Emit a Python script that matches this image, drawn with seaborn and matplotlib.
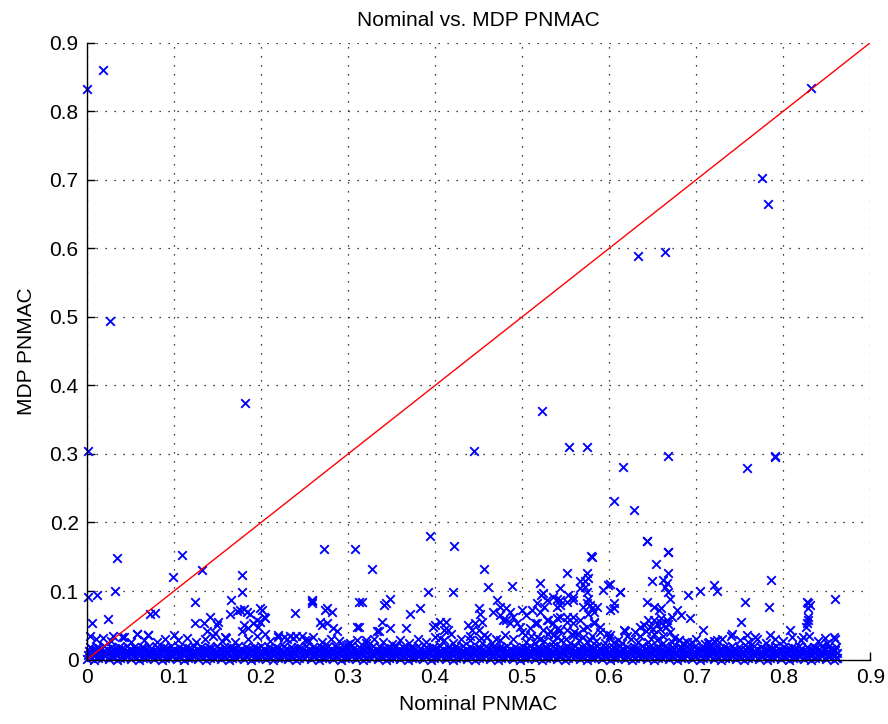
import matplotlib
matplotlib.use("Agg")
import matplotlib.pyplot as plt
import seaborn as sns
import pandas as pd

# Tick positions / labels (both axes share them)
tick_vals = [0.0, 0.1, 0.2, 0.3, 0.4, 0.5, 0.6, 0.7, 0.8, 0.9]
tick_text = ["0", "0.1", "0.2", "0.3", "0.4", "0.5", "0.6", "0.7", "0.8", "0.9"]

# Reference line y = x
diag_x = [0.0, 0.9]
diag_y = [0.0, 0.9]

# Cases with MDP PNMAC essentially zero (dense band along the x axis)
band_pts = [
    (0.000,0.001),(0.008,0.000),(0.017,0.002),(0.025,0.001),(0.034,0.000),(0.043,0.003),(0.051,0.001),(0.060,0.000),(0.068,0.002),(0.077,0.001),
    (0.086,0.000),(0.094,0.002),(0.103,0.001),(0.111,0.000),(0.120,0.003),(0.128,0.001),(0.137,0.000),(0.146,0.002),(0.154,0.001),(0.163,0.000),
    (0.171,0.002),(0.180,0.001),(0.189,0.000),(0.197,0.003),(0.206,0.001),(0.214,0.000),(0.223,0.002),(0.231,0.001),(0.240,0.000),(0.249,0.002),
    (0.257,0.001),(0.266,0.000),(0.274,0.003),(0.283,0.001),(0.292,0.000),(0.300,0.002),(0.309,0.001),(0.317,0.000),(0.326,0.002),(0.334,0.001),
    (0.343,0.000),(0.352,0.003),(0.360,0.001),(0.369,0.000),(0.377,0.002),(0.386,0.001),(0.395,0.000),(0.403,0.002),(0.412,0.001),(0.420,0.000),
    (0.429,0.003),(0.437,0.001),(0.446,0.000),(0.455,0.002),(0.463,0.001),(0.472,0.000),(0.480,0.002),(0.489,0.001),(0.498,0.000),(0.506,0.003),
    (0.515,0.001),(0.523,0.000),(0.532,0.002),(0.540,0.001),(0.549,0.000),(0.558,0.002),(0.566,0.001),(0.575,0.000),(0.583,0.003),(0.592,0.001),
    (0.601,0.000),(0.609,0.002),(0.618,0.001),(0.626,0.000),(0.635,0.002),(0.643,0.001),(0.652,0.000),(0.661,0.003),(0.669,0.001),(0.678,0.000),
    (0.686,0.002),(0.695,0.001),(0.704,0.000),(0.712,0.002),(0.721,0.001),(0.729,0.000),(0.738,0.003),(0.746,0.001),(0.755,0.000),(0.764,0.002),
    (0.772,0.001),(0.781,0.000),(0.789,0.002),(0.798,0.001),(0.807,0.000),(0.815,0.003),(0.824,0.001),(0.832,0.000),(0.841,0.002),(0.849,0.001),
    (0.858,0.000),(0.862,0.002),
    (0.002,0.013),(0.010,0.014),(0.019,0.012),(0.027,0.013),(0.036,0.014),(0.045,0.012),(0.053,0.013),(0.062,0.014),(0.070,0.012),(0.079,0.013),
    (0.088,0.014),(0.096,0.012),(0.105,0.013),(0.113,0.014),(0.122,0.012),(0.130,0.013),(0.139,0.014),(0.148,0.012),(0.156,0.013),(0.165,0.014),
    (0.173,0.012),(0.182,0.013),(0.191,0.014),(0.199,0.012),(0.208,0.013),(0.216,0.014),(0.225,0.012),(0.233,0.013),(0.242,0.014),(0.251,0.012),
    (0.259,0.013),(0.268,0.014),(0.276,0.012),(0.285,0.013),(0.294,0.014),(0.302,0.012),(0.311,0.013),(0.319,0.014),(0.328,0.012),(0.336,0.013),
    (0.345,0.014),(0.354,0.012),(0.362,0.013),(0.371,0.014),(0.379,0.012),(0.388,0.013),(0.397,0.014),(0.405,0.012),(0.414,0.013),(0.422,0.014),
    (0.431,0.012),(0.439,0.013),(0.448,0.014),(0.457,0.012),(0.465,0.013),(0.474,0.014),(0.482,0.012),(0.491,0.013),(0.500,0.014),(0.508,0.012),
    (0.517,0.013),(0.525,0.014),(0.534,0.012),(0.542,0.013),(0.551,0.014),(0.560,0.012),(0.568,0.013),(0.577,0.014),(0.585,0.012),(0.594,0.013),
    (0.603,0.014),(0.611,0.012),(0.620,0.013),(0.628,0.014),(0.637,0.012),(0.645,0.013),(0.654,0.014),(0.663,0.012),(0.671,0.013),(0.680,0.014),
    (0.688,0.012),(0.697,0.013),(0.706,0.014),(0.714,0.012),(0.723,0.013),(0.731,0.014),(0.740,0.012),(0.748,0.013),(0.757,0.014),(0.766,0.012),
    (0.774,0.013),(0.783,0.014),(0.791,0.012),(0.800,0.013),(0.809,0.014),(0.817,0.012),(0.826,0.013),(0.834,0.014),(0.843,0.012),(0.851,0.013),
    (0.860,0.014),
    (0.004,0.004),(0.013,0.003),(0.021,0.005),(0.030,0.004),(0.038,0.003),(0.047,0.005),(0.056,0.004),(0.064,0.003),(0.073,0.005),(0.081,0.004),
    (0.090,0.003),(0.099,0.005),(0.107,0.004),(0.116,0.003),(0.124,0.005),(0.133,0.004),(0.141,0.003),(0.150,0.005),(0.159,0.004),(0.167,0.003),
    (0.176,0.005),(0.184,0.004),(0.193,0.003),(0.201,0.005),(0.210,0.004),(0.219,0.003),(0.227,0.005),(0.236,0.004),(0.244,0.003),(0.253,0.005),
    (0.261,0.004),(0.270,0.003),(0.279,0.005),(0.287,0.004),(0.296,0.003),(0.304,0.005),(0.313,0.004),(0.321,0.003),(0.330,0.005),(0.339,0.004),
    (0.347,0.003),(0.356,0.005),(0.364,0.004),(0.373,0.003),(0.381,0.005),(0.390,0.004),(0.399,0.003),(0.407,0.005),(0.416,0.004),(0.424,0.003),
    (0.433,0.005),(0.441,0.004),(0.450,0.003),(0.459,0.005),(0.467,0.004),(0.476,0.003),(0.484,0.005),(0.493,0.004),(0.502,0.003),(0.510,0.005),
    (0.519,0.004),(0.527,0.003),(0.536,0.005),(0.544,0.004),(0.553,0.003),(0.562,0.005),(0.570,0.004),(0.579,0.003),(0.587,0.005),(0.596,0.004),
    (0.605,0.003),(0.613,0.005),(0.622,0.004),(0.630,0.003),(0.639,0.005),(0.647,0.004),(0.656,0.003),(0.665,0.005),(0.673,0.004),(0.682,0.003),
    (0.690,0.005),(0.699,0.004),(0.708,0.003),(0.716,0.005),(0.725,0.004),(0.733,0.003),(0.742,0.005),(0.750,0.004),(0.759,0.003),(0.768,0.005),
    (0.776,0.004),(0.785,0.003),(0.793,0.005),(0.802,0.004),(0.811,0.003),(0.819,0.005),(0.828,0.004),(0.836,0.003),(0.845,0.005),(0.853,0.004),
    (0.861,0.003),
    (0.006,0.016),(0.014,0.017),(0.023,0.015),(0.031,0.016),(0.040,0.017),(0.049,0.015),(0.057,0.016),(0.066,0.017),(0.074,0.015),(0.083,0.016),
    (0.092,0.017),(0.100,0.015),(0.109,0.016),(0.117,0.017),(0.126,0.015),(0.134,0.016),(0.143,0.017),(0.152,0.015),(0.160,0.016),(0.169,0.017),
    (0.177,0.015),(0.186,0.016),(0.195,0.017),(0.203,0.015),(0.212,0.016),(0.220,0.017),(0.229,0.015),(0.237,0.016),(0.246,0.017),(0.255,0.015),
    (0.263,0.016),(0.272,0.017),(0.280,0.015),(0.289,0.016),(0.298,0.017),(0.306,0.015),(0.315,0.016),(0.323,0.017),(0.332,0.015),(0.340,0.016),
    (0.349,0.017),(0.358,0.015),(0.366,0.016),(0.375,0.017),(0.383,0.015),(0.392,0.016),(0.401,0.017),(0.409,0.015),(0.418,0.016),(0.426,0.017),
    (0.435,0.015),(0.443,0.016),(0.452,0.017),(0.461,0.015),(0.469,0.016),(0.478,0.017),(0.486,0.015),(0.495,0.016),(0.504,0.017),(0.512,0.015),
    (0.521,0.016),(0.529,0.017),(0.538,0.015),(0.546,0.016),(0.555,0.017),(0.564,0.015),(0.572,0.016),(0.581,0.017),(0.589,0.015),(0.598,0.016),
    (0.607,0.017),(0.615,0.015),(0.624,0.016),(0.632,0.017),(0.641,0.015),(0.649,0.016),(0.658,0.017),(0.667,0.015),(0.675,0.016),(0.684,0.017),
    (0.692,0.015),(0.701,0.016),(0.710,0.017),(0.718,0.015),(0.727,0.016),(0.735,0.017),(0.744,0.015),(0.752,0.016),(0.761,0.017),(0.770,0.015),
    (0.778,0.016),(0.787,0.017),(0.795,0.015),(0.804,0.016),(0.813,0.017),(0.821,0.015),(0.830,0.016),(0.838,0.017),(0.847,0.015),(0.855,0.016),
    (0.001,0.007),(0.009,0.006),(0.018,0.008),(0.026,0.007),(0.035,0.006),(0.044,0.008),(0.052,0.007),(0.061,0.006),(0.069,0.008),(0.078,0.007),
    (0.087,0.006),(0.095,0.008),(0.104,0.007),(0.112,0.006),(0.121,0.008),(0.129,0.007),(0.138,0.006),(0.147,0.008),(0.155,0.007),(0.164,0.006),
    (0.172,0.008),(0.181,0.007),(0.190,0.006),(0.198,0.008),(0.207,0.007),(0.215,0.006),(0.224,0.008),(0.232,0.007),(0.241,0.006),(0.250,0.008),
    (0.258,0.007),(0.267,0.006),(0.275,0.008),(0.284,0.007),(0.293,0.006),(0.301,0.008),(0.310,0.007),(0.318,0.006),(0.327,0.008),(0.335,0.007),
    (0.344,0.006),(0.353,0.008),(0.361,0.007),(0.370,0.006),(0.378,0.008),(0.387,0.007),(0.396,0.006),(0.404,0.008),(0.413,0.007),(0.421,0.006),
    (0.430,0.008),(0.438,0.007),(0.447,0.006),(0.456,0.008),(0.464,0.007),(0.473,0.006),(0.481,0.008),(0.490,0.007),(0.499,0.006),(0.507,0.008),
    (0.516,0.007),(0.524,0.006),(0.533,0.008),(0.541,0.007),(0.550,0.006),(0.559,0.008),(0.567,0.007),(0.576,0.006),(0.584,0.008),(0.593,0.007),
    (0.602,0.006),(0.610,0.008),(0.619,0.007),(0.627,0.006),(0.636,0.008),(0.644,0.007),(0.653,0.006),(0.662,0.008),(0.670,0.007),(0.679,0.006),
    (0.687,0.008),(0.696,0.007),(0.705,0.006),(0.713,0.008),(0.722,0.007),(0.730,0.006),(0.739,0.008),(0.747,0.007),(0.756,0.006),(0.765,0.008),
    (0.773,0.007),(0.782,0.006),(0.790,0.008),(0.799,0.007),(0.808,0.006),(0.816,0.008),(0.825,0.007),(0.833,0.006),(0.842,0.008),(0.850,0.007),
    (0.859,0.006),
    (0.003,0.019),(0.011,0.018),(0.020,0.020),(0.028,0.019),(0.037,0.018),(0.046,0.020),(0.054,0.019),(0.063,0.018),(0.071,0.020),(0.080,0.019),
    (0.089,0.018),(0.097,0.020),(0.106,0.019),(0.114,0.018),(0.123,0.020),(0.131,0.019),(0.140,0.018),(0.149,0.020),(0.157,0.019),(0.166,0.018),
    (0.174,0.020),(0.183,0.019),(0.192,0.018),(0.200,0.020),(0.209,0.019),(0.217,0.018),(0.226,0.020),(0.234,0.019),(0.243,0.018),(0.252,0.020),
    (0.260,0.019),(0.269,0.018),(0.277,0.020),(0.286,0.019),(0.295,0.018),(0.303,0.020),(0.312,0.019),(0.320,0.018),(0.329,0.020),(0.337,0.019),
    (0.346,0.018),(0.355,0.020),(0.363,0.019),(0.372,0.018),(0.380,0.020),(0.389,0.019),(0.398,0.018),(0.406,0.020),(0.415,0.019),(0.423,0.018),
    (0.432,0.020),(0.440,0.019),(0.449,0.018),(0.458,0.020),(0.466,0.019),(0.475,0.018),(0.483,0.020),(0.492,0.019),(0.501,0.018),(0.509,0.020),
    (0.518,0.019),(0.526,0.018),(0.535,0.020),(0.543,0.019),(0.552,0.018),(0.561,0.020),(0.569,0.019),(0.578,0.018),(0.586,0.020),(0.595,0.019),
    (0.604,0.018),(0.612,0.020),(0.621,0.019),(0.629,0.018),(0.638,0.020),(0.646,0.019),(0.655,0.018),(0.664,0.020),(0.672,0.019),(0.681,0.018),
    (0.689,0.020),(0.698,0.019),(0.707,0.018),(0.715,0.020),(0.724,0.019),(0.732,0.018),(0.741,0.020),(0.749,0.019),(0.758,0.018),(0.767,0.020),
    (0.775,0.019),(0.784,0.018),(0.792,0.020),(0.801,0.019),(0.810,0.018),(0.818,0.020),(0.827,0.019),(0.835,0.018),(0.844,0.020),(0.852,0.019),
    (0.861,0.018),
    (0.005,0.010),(0.014,0.009),(0.022,0.011),(0.031,0.010),(0.039,0.009),(0.048,0.011),(0.057,0.010),(0.065,0.009),(0.074,0.011),(0.082,0.010),
    (0.091,0.009),(0.100,0.011),(0.108,0.010),(0.117,0.009),(0.125,0.011),(0.134,0.010),(0.142,0.009),(0.151,0.011),(0.160,0.010),(0.168,0.009),
    (0.177,0.011),(0.185,0.010),(0.194,0.009),(0.202,0.011),(0.211,0.010),(0.220,0.009),(0.228,0.011),(0.237,0.010),(0.245,0.009),(0.254,0.011),
    (0.262,0.010),(0.271,0.009),(0.280,0.011),(0.288,0.010),(0.297,0.009),(0.305,0.011),(0.314,0.010),(0.322,0.009),(0.331,0.011),(0.340,0.010),
    (0.348,0.009),(0.357,0.011),(0.365,0.010),(0.374,0.009),(0.382,0.011),(0.391,0.010),(0.400,0.009),(0.408,0.011),(0.417,0.010),(0.425,0.009),
    (0.434,0.011),(0.442,0.010),(0.451,0.009),(0.460,0.011),(0.468,0.010),(0.477,0.009),(0.485,0.011),(0.494,0.010),(0.503,0.009),(0.511,0.011),
    (0.520,0.010),(0.528,0.009),(0.537,0.011),(0.545,0.010),(0.554,0.009),(0.563,0.011),(0.571,0.010),(0.580,0.009),(0.588,0.011),(0.597,0.010),
    (0.606,0.009),(0.614,0.011),(0.623,0.010),(0.631,0.009),(0.640,0.011),(0.648,0.010),(0.657,0.009),(0.666,0.011),(0.674,0.010),(0.683,0.009),
    (0.691,0.011),(0.700,0.010),(0.709,0.009),(0.717,0.011),(0.726,0.010),(0.734,0.009),(0.743,0.011),(0.751,0.010),(0.760,0.009),(0.769,0.011),
    (0.777,0.010),(0.786,0.009),(0.794,0.011),(0.803,0.010),(0.812,0.009),(0.820,0.011),(0.829,0.010),(0.837,0.009),(0.846,0.011),(0.854,0.010),
    (0.862,0.009),
]

# Ragged upper edge of the band
edge_pts = [
    (0.003,0.035),(0.010,0.030),(0.018,0.032),(0.028,0.027),(0.040,0.033),(0.050,0.025),(0.057,0.038),(0.065,0.028),(0.070,0.036),(0.080,0.025),
    (0.090,0.030),(0.100,0.036),(0.105,0.028),(0.115,0.032),(0.125,0.025),(0.135,0.030),(0.145,0.035),(0.155,0.027),(0.160,0.032),(0.170,0.025),
    (0.185,0.030),(0.195,0.035),(0.210,0.027),(0.220,0.033),(0.230,0.030),(0.240,0.035),(0.250,0.028),(0.260,0.033),(0.270,0.025),(0.280,0.030),
    (0.290,0.027),(0.300,0.022),(0.310,0.028),(0.320,0.024),(0.330,0.030),(0.340,0.026),(0.350,0.022),(0.360,0.028),(0.370,0.024),(0.380,0.030),
    (0.390,0.025),(0.400,0.033),(0.410,0.028),(0.420,0.024),(0.430,0.030),(0.440,0.035),(0.450,0.028),(0.460,0.033),(0.470,0.030),(0.480,0.036),
    (0.490,0.030),(0.500,0.040),(0.510,0.035),(0.520,0.030),(0.530,0.038),(0.540,0.045),(0.550,0.030),(0.560,0.040),(0.570,0.045),(0.580,0.035),
    (0.590,0.040),(0.600,0.032),(0.610,0.028),(0.620,0.035),(0.630,0.040),(0.640,0.050),(0.645,0.058),(0.650,0.045),(0.655,0.052),(0.660,0.060),
    (0.665,0.048),(0.670,0.040),(0.675,0.032),(0.680,0.028),(0.690,0.025),(0.700,0.030),(0.710,0.022),(0.720,0.027),(0.730,0.030),(0.740,0.034),
    (0.750,0.028),(0.760,0.025),(0.770,0.030),(0.780,0.024),(0.790,0.030),(0.800,0.027),(0.810,0.033),(0.820,0.028),(0.830,0.035),(0.840,0.027),
    (0.850,0.024),(0.860,0.030),
    (0.635,0.035),(0.642,0.042),(0.648,0.030),(0.652,0.038),(0.658,0.045),(0.662,0.035),(0.668,0.052),(0.645,0.025),(0.655,0.028),(0.625,0.030),
    (0.465,0.024),(0.475,0.028),(0.505,0.026),(0.515,0.024),(0.525,0.027),(0.535,0.025),(0.545,0.028),(0.555,0.024),(0.565,0.029),(0.575,0.025),
    (0.585,0.027),(0.595,0.024),(0.605,0.026),(0.615,0.024),(0.633,0.026),(0.662,0.024),(0.672,0.026),(0.685,0.023),(0.695,0.026),(0.715,0.025),
]

# Moderate MDP PNMAC values (roughly 0.02 - 0.2)
mid_pts = [
    (0.034,0.148),(0.0015,0.091),(0.012,0.094),(0.032,0.100),(0.006,0.053),(0.0245,0.059),
    (0.109,0.153),(0.099,0.120),(0.132,0.131),(0.124,0.084),(0.072,0.067),(0.078,0.068),
    (0.178,0.123),(0.178,0.099),(0.166,0.087),(0.176,0.073),(0.180,0.074),(0.172,0.071),(0.164,0.067),(0.184,0.070),
    (0.199,0.075),(0.205,0.060),(0.197,0.048),(0.195,0.058),(0.185,0.046),(0.178,0.041),(0.191,0.053),(0.180,0.050),
    (0.151,0.055),(0.149,0.050),(0.141,0.062),(0.124,0.053),(0.134,0.053),(0.138,0.041),(0.147,0.039),(0.159,0.033),
    (0.272,0.161),(0.239,0.068),(0.258,0.087),(0.258,0.083),(0.258,0.085),(0.274,0.072),(0.281,0.070),(0.276,0.075),
    (0.268,0.055),(0.276,0.053),(0.270,0.050),(0.283,0.046),(0.287,0.041),(0.308,0.161),(0.312,0.084),(0.310,0.048),
    (0.057,0.038),(0.070,0.036),(0.042,0.033),(0.030,0.035),(0.220,0.036),(0.233,0.034),(0.247,0.034),(0.298,0.021),
    (0.201,0.072),(0.203,0.062),(0.199,0.055),(0.205,0.038),(0.187,0.067),(0.226,0.033),(0.237,0.031),(0.254,0.028),
    (0.320,0.028),(0.302,0.024),
    (0.394,0.180),(0.422,0.166),(0.328,0.132),(0.456,0.132),(0.580,0.149),(0.551,0.127),(0.574,0.126),(0.576,0.119),
    (0.521,0.111),(0.488,0.108),(0.461,0.106),(0.392,0.099),(0.420,0.099),(0.544,0.104),(0.599,0.109),(0.613,0.099),
    (0.316,0.084),(0.341,0.080),(0.348,0.089),(0.344,0.082),(0.383,0.075),(0.371,0.066),(0.339,0.055),(0.333,0.041),
    (0.335,0.042),(0.348,0.046),(0.313,0.048),(0.367,0.046),(0.398,0.048),(0.406,0.055),(0.413,0.055),(0.410,0.043),
    (0.418,0.038),(0.406,0.031),(0.438,0.050),(0.446,0.053),(0.454,0.055),(0.450,0.043),(0.456,0.036),(0.400,0.050),
    (0.415,0.043),(0.442,0.043),(0.453,0.031),(0.440,0.028),
    (0.471,0.087),(0.475,0.077),(0.467,0.070),(0.482,0.075),(0.478,0.058),(0.486,0.053),(0.490,0.062),(0.500,0.072),
    (0.505,0.065),(0.498,0.048),(0.503,0.036),(0.450,0.075),(0.452,0.067),(0.475,0.065),(0.482,0.058),(0.486,0.070),
    (0.494,0.053),(0.511,0.072),(0.515,0.053),(0.509,0.046),(0.517,0.033),
    (0.517,0.082),(0.521,0.070),(0.528,0.087),(0.524,0.097),(0.530,0.058),(0.522,0.094),(0.525,0.077),(0.517,0.053),
    (0.524,0.043),(0.536,0.092),(0.544,0.087),(0.540,0.077),(0.551,0.084),(0.559,0.092),(0.567,0.104),(0.540,0.089),
    (0.544,0.080),(0.553,0.094),(0.559,0.087),(0.572,0.114),(0.574,0.082),(0.580,0.075),(0.576,0.067),(0.586,0.077),
    (0.567,0.114),(0.572,0.106),(0.574,0.099),(0.576,0.089),(0.570,0.077),(0.578,0.080),(0.582,0.070),
    (0.540,0.060),(0.551,0.062),(0.559,0.053),(0.544,0.043),(0.536,0.036),(0.559,0.036),(0.528,0.058),(0.536,0.053),
    (0.544,0.062),(0.551,0.055),(0.559,0.062),(0.532,0.041),(0.540,0.033),(0.551,0.043),(0.563,0.038),
    (0.567,0.058),(0.574,0.048),(0.582,0.053),(0.570,0.033),(0.578,0.028),(0.582,0.055),(0.590,0.048),(0.597,0.038),
    (0.617,0.043),(0.605,0.075),(0.605,0.082),(0.601,0.073),
    (0.643,0.173),(0.668,0.157),(0.654,0.140),(0.668,0.126),(0.649,0.114),(0.662,0.116),(0.666,0.111),(0.664,0.106),
    (0.601,0.110),(0.593,0.101),(0.613,0.098),(0.668,0.099),(0.670,0.089),(0.691,0.094),(0.704,0.100),(0.720,0.109),
    (0.724,0.100),(0.786,0.116),(0.756,0.084),(0.784,0.076),(0.827,0.084),(0.831,0.080),(0.829,0.075),(0.829,0.082),
    (0.859,0.089),(0.827,0.053),(0.826,0.048),(0.829,0.058),(0.828,0.062),
    (0.643,0.084),(0.651,0.077),(0.657,0.072),(0.660,0.075),(0.678,0.072),(0.683,0.065),(0.693,0.060),
    (0.651,0.058),(0.647,0.048),(0.659,0.053),(0.666,0.058),(0.672,0.062),(0.708,0.043),(0.752,0.055),
    (0.618,0.041),(0.636,0.048),(0.601,0.036),(0.741,0.038),(0.758,0.036),(0.768,0.033),(0.808,0.043),
    (0.823,0.033),(0.848,0.031),(0.858,0.033),(0.680,0.028),(0.685,0.024),(0.714,0.024),(0.724,0.028),(0.785,0.036),
]

# Large MDP PNMAC values
high_pts = [
    (0.000,0.832),(0.018,0.860),(0.026,0.494),(0.001,0.304),(0.182,0.374),(0.832,0.834),
    (0.776,0.702),(0.782,0.665),(0.633,0.589),(0.664,0.594),
    (0.445,0.305),(0.523,0.363),(0.554,0.310),(0.575,0.310),(0.616,0.281),(0.668,0.297),
    (0.606,0.231),(0.629,0.218),(0.758,0.279),(0.790,0.297),(0.791,0.295),(0.643,0.173),
    (0.668,0.157),(0.579,0.151),
]

all_pts = band_pts + edge_pts + mid_pts + high_pts
df = pd.DataFrame(all_pts, columns=["Nominal PNMAC", "MDP PNMAC"])
diag = pd.DataFrame({"x": diag_x, "y": diag_y})

plt.rcParams["font.family"] = ["Liberation Sans", "DejaVu Sans"]
plt.rcParams["font.size"] = 15

fig = plt.figure(figsize=(8.88, 7.24), dpi=100)
ax = fig.add_axes([0.098, 0.089, 0.882, 0.852])

sns.scatterplot(data=df, x="Nominal PNMAC", y="MDP PNMAC", ax=ax,
                marker="x", color=(0, 0, 1), s=38, linewidth=1.35,
                clip_on=False, zorder=3, legend=False)
sns.lineplot(data=diag, x="x", y="y", ax=ax, color=(1, 0, 0),
             linewidth=1.0, zorder=4, legend=False)

ax.set_xlim(0, 0.9)
ax.set_ylim(0, 0.9)
ax.set_xticks(tick_vals)
ax.set_xticklabels(tick_text)
ax.set_yticks(tick_vals)
ax.set_yticklabels(tick_text)

# Dotted grid, dots roughly 9 px apart
ax.grid(True, color="black", linestyle=(0, (1, 6.2)), linewidth=0.9)
ax.set_axisbelow(True)

for side in ("top", "right"):
    ax.spines[side].set_visible(False)
for side in ("left", "bottom"):
    ax.spines[side].set_linewidth(1.0)
    ax.spines[side].set_color("black")
    ax.spines[side].set_zorder(5)

ax.tick_params(direction="in", length=6, width=1.0, colors="black",
               labelsize=15, pad=6)

ax.set_title("Nominal vs. MDP PNMAC", fontsize=15, pad=12)
ax.set_xlabel("Nominal PNMAC", fontsize=15, labelpad=6)
ax.set_ylabel("MDP PNMAC", fontsize=15, labelpad=10)

fig.savefig("out.png", dpi=100, facecolor="white")
